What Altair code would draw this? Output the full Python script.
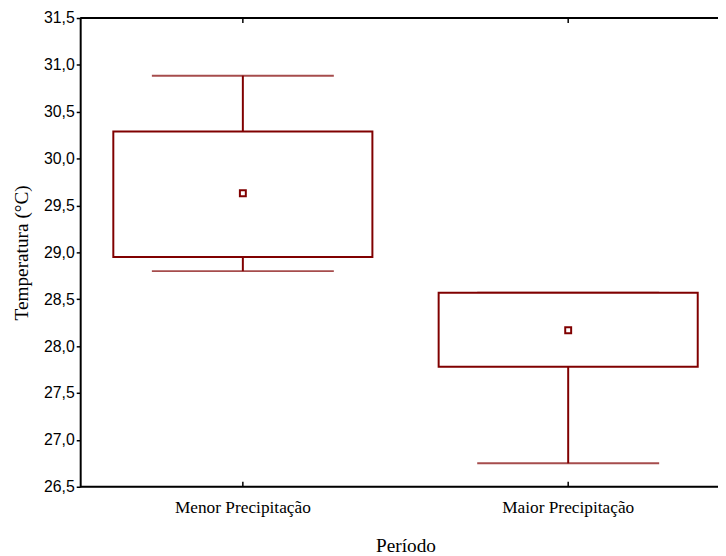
import altair as alt
import pandas as pd

categories = ["Menor Precipitação", "Maior Precipitação"]
means = [29.63, 28.17]
box_low = [28.95, 27.78]
box_high = [30.29, 28.57]
whisk_low = [28.80, 26.75]
whisk_high = [30.885, 28.57]
y_ticks = [26.5, 27.0, 27.5, 28.0, 28.5, 29.0, 29.5, 30.0, 30.5, 31.0, 31.5]

df = pd.DataFrame({
    "cat": categories,
    "mean": means,
    "blo": box_low,
    "bhi": box_high,
    "wlo": whisk_low,
    "whi": whisk_high,
})

RED = "#800000"
W, H = 645, 474
SERIF = "Liberation Serif"
SANS = "Liberation Sans"

xscale = alt.Scale(domain=categories, range=[0, 658], paddingInner=0, paddingOuter=0)
yscale = alt.Scale(domain=[26.5, 31.5], nice=False, zero=False)

x_enc = alt.X("cat:N", scale=xscale, sort=categories,
              axis=alt.Axis(title="Período", labelAngle=0, ticks=False, domain=False,
                            labelFont=SERIF, labelFontSize=17.5, labelColor="black",
                            labelPadding=12, titleFont=SERIF, titleFontSize=19.5,
                            titleFontWeight="normal", titleColor="black", titlePadding=21))
y_axis = alt.Axis(title="Temperatura (°C)", values=y_ticks, grid=False,
                  labelExpr="replace(format(datum.value, '.1f'), '.', ',')",
                  labelFont=SANS, labelFontSize=16, labelColor="black", labelPadding=2,
                  tickSize=4, tickWidth=1.5, tickColor="black",
                  domainColor="black", domainWidth=2,
                  titleFont=SERIF, titleFontSize=19.5, titleFontWeight="normal",
                  titleColor="black", titlePadding=12)

base = alt.Chart(df)

whisker = base.mark_rule(color=RED, strokeWidth=2).encode(
    x=x_enc,
    y=alt.Y("wlo:Q", scale=yscale, axis=y_axis),
    y2="whi:Q",
)
caps_hi = base.mark_tick(color=RED, size=184, thickness=2, orient="horizontal").encode(
    x=alt.X("cat:N", scale=xscale, sort=categories), y=alt.Y("whi:Q", scale=yscale))
caps_lo = base.mark_tick(color=RED, size=184, thickness=2, orient="horizontal").encode(
    x=alt.X("cat:N", scale=xscale, sort=categories), y=alt.Y("wlo:Q", scale=yscale))
box = base.mark_bar(size=262, fill="white", stroke=RED, strokeWidth=2).encode(
    x=alt.X("cat:N", scale=xscale, sort=categories),
    y=alt.Y("blo:Q", scale=yscale), y2="bhi:Q")
mean_pt = base.mark_point(shape="square", filled=False, size=36, color=RED,
                          strokeWidth=2, opacity=1).encode(
    x=alt.X("cat:N", scale=xscale, sort=categories), y=alt.Y("mean:Q", scale=yscale))

# frame lines (top and bottom) and inward x ticks
top_line = alt.Chart(pd.DataFrame({"a": [0]})).mark_rule(color="black", strokeWidth=2).encode(
    x=alt.value(0), x2=alt.value(W), y=alt.value(0))
bot_line = alt.Chart(pd.DataFrame({"a": [0]})).mark_rule(color="black", strokeWidth=2).encode(
    x=alt.value(0), x2=alt.value(W), y=alt.value(H))
tick_bot = base.mark_rule(color="black", strokeWidth=1.5).encode(
    x=alt.X("cat:N", scale=xscale, sort=categories), y=alt.value(H - 5), y2=alt.value(H))
tick_top = base.mark_rule(color="black", strokeWidth=1.5).encode(
    x=alt.X("cat:N", scale=xscale, sort=categories), y=alt.value(0), y2=alt.value(5))

chart = alt.layer(whisker, caps_hi, caps_lo, box, mean_pt, top_line, bot_line,
                  tick_bot, tick_top).properties(
    width=W, height=H,
    autosize=alt.AutoSizeParams(type="none"),
    padding={"left": 73, "top": 7, "right": 0, "bottom": 75},
).configure_view(stroke=None).configure(background="white")

chart.save("out.html", embed_options={"renderer": "svg", "actions": False})
